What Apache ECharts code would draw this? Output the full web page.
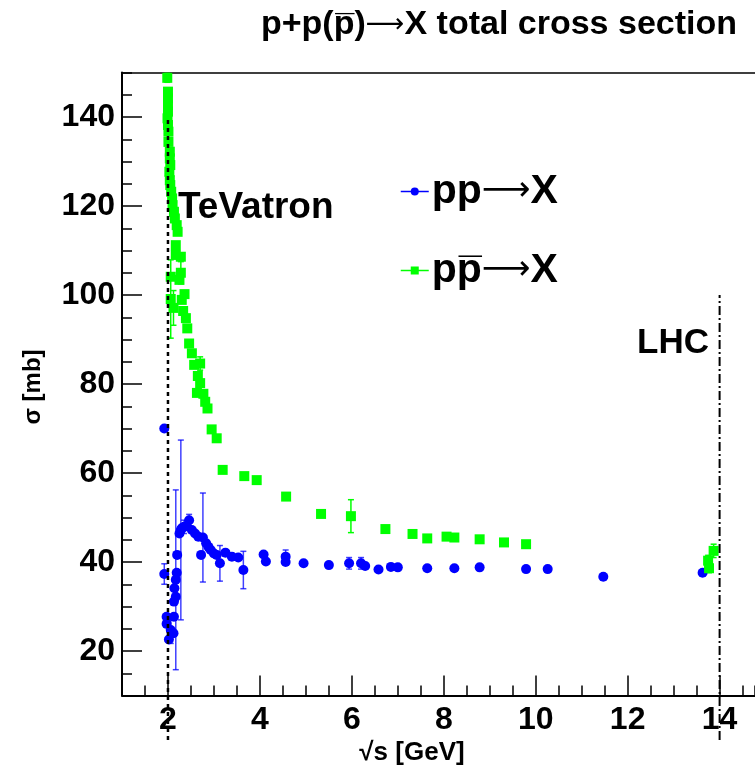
<!DOCTYPE html>
<html><head><meta charset="utf-8">
<script src="https://cdn.jsdelivr.net/npm/echarts@6/dist/echarts.min.js"></script>
<style>html,body{margin:0;padding:0;background:#fff}#c{width:755px;height:774px}</style>
</head><body><div id="c"></div>
<script>
// ---- data: sqrt(s) [GeV], sigma [mb], error [mb] ----
const ppX = [1.92,1.92,1.97,1.97,2.02,2.06,2.12,2.13,2.13,2.17,2.14,2.17,2.19,2.20,2.25,2.28,2.30,2.35,2.41,2.46,2.52,2.59,2.66,2.76,2.83,2.88,2.93,3.00,3.06,2.72,3.13,3.25,3.39,3.53,3.64,4.08,4.13,4.56,4.56,4.95,5.50,5.94,6.20,6.29,6.58,6.85,7.00,7.64,8.23,8.78,9.79,10.26,11.47,13.63];
const ppY = [70.0,37.3,27.7,26.1,22.6,24.7,24.0,27.7,31.1,32.2,34.1,36.0,37.6,41.6,46.4,47.2,47.6,47.9,48.1,49.4,47.2,46.4,45.7,45.5,44.2,43.4,42.7,41.9,41.6,41.6,39.7,42.1,41.2,41.0,38.2,41.7,40.1,41.2,40.0,39.7,39.3,39.7,39.7,39.1,38.3,38.9,38.8,38.6,38.6,38.8,38.4,38.4,36.7,37.6];
const ppErr = [0,2.3,0,0,0,3.0,0,0,0,0,0,20.2,0,0,0,20.2,0,1.5,0,1.3,0,0,0,10.0,0,0,0,0,0,0,4.0,0,0,0,4.2,0,0,1.5,0,0,0,1.3,1.3,0,0,0,0,0,0,0,0,0,0,0];

const pbX = [1.985,2.00,2.00,2.00,2.00,1.99,2.00,2.01,2.01,2.04,2.04,2.05,2.03,2.04,2.05,2.07,2.09,2.10,2.13,2.15,2.19,2.21,2.17,2.28,2.17,2.28,2.06,2.25,2.36,2.30,2.06,2.12,2.33,2.39,2.42,2.46,2.52,2.57,2.70,2.65,2.70,2.63,2.77,2.81,2.86,2.95,3.06,3.19,3.66,3.93,4.57,5.33,5.98,6.73,7.32,7.64,8.06,8.23,8.78,9.31,9.79,13.77,13.75,13.87];
const pbY = [148.8,145.7,144.2,142.7,141.2,139.7,138.2,136.7,134.4,132.2,130.7,129.2,127.7,125.8,124.7,123.2,121.7,120.2,118.7,117.2,115.7,114.2,111.2,108.6,109.0,105.0,104.1,103.4,100.2,98.9,99.1,97.1,96.4,94.8,92.5,89.1,86.9,84.3,84.6,81.8,80.2,78.0,77.8,76.0,74.5,69.8,67.8,60.7,59.3,58.4,54.7,50.8,50.3,47.4,46.3,45.3,45.7,45.5,45.1,44.4,44.0,38.6,40.3,42.5];
const pbErr = [1.0,0,0,0,0,0,0,0,0,0,0,0,0,0,0,0,0,0,0,0,0,0,0,0,0,2.5,0,0,0,0,8.8,3.9,0,0,0,0,0,0,1.5,0,0,0,0,0,0,0,0,0,0,0,0,0,3.7,0,0,0,0,0,0,0,0,1.0,1.2,1.5];

const xMajorTicks = [2,4,6,8,10,12,14];
const yMajorTicks = [20,40,60,80,100,120,140];
const tevatronLine = [[2,0],[2,140]];
const lhcLine = [[14,0],[14,100]];

const seriesNames = ['pp\u2192X', 'pp\u0305\u2192X'];

const FONT = 'Liberation Sans, Arial, Helvetica, sans-serif';
const ARROWFONT = 'DejaVu Sans, sans-serif';
const BLUE = '#0000ff', GREEN = '#00ff00';

function zip(xs, ys){ return xs.map((x,i)=>[x, ys[i]]); }
function errSeries(xs, ys, es, color){
  const data = [];
  for (let i=0;i<xs.length;i++) if (es[i]>0) data.push([xs[i], ys[i]-es[i], ys[i]+es[i]]);
  return {
    type:'custom', silent:true, z:3, data, encode:{x:0, y:[1,2]},
    renderItem(params, api){
      const lo = api.coord([api.value(0), api.value(1)]);
      const hi = api.coord([api.value(0), api.value(2)]);
      const w = 3, st = {stroke:color, lineWidth:1.5};
      return {type:'group', children:[
        {type:'line', shape:{x1:lo[0],y1:lo[1],x2:hi[0],y2:hi[1]}, style:st},
        {type:'line', shape:{x1:lo[0]-w,y1:lo[1],x2:lo[0]+w,y2:lo[1]}, style:st},
        {type:'line', shape:{x1:hi[0]-w,y1:hi[1],x2:hi[0]+w,y2:hi[1]}, style:st}
      ]};
    }
  };
}
function arrowRich(name){ return name.replace('\u2192', '{a|\u27f6}'); }

const chart = echarts.init(document.getElementById('c'));
const labelStyle = {color:'#000', fontFamily:FONT, fontWeight:'bold', fontSize:32};
chart.setOption({
  animation:false,
  backgroundColor:'#fff',
  grid:{left:122, top:72.5, right:0, height:623, show:false},
  xAxis:[
    {type:'value', min:1, max:14.77, interval:0.5, position:'bottom',
     axisLine:{show:true, lineStyle:{color:'#000', width:2}},
     axisTick:{show:true, inside:true, length:10, lineStyle:{color:'#000', width:1.5}},
     axisLabel:{show:false}, splitLine:{show:false}},
    {type:'value', min:1, max:14.77, position:'bottom',
     axisLine:{show:false},
     axisTick:{show:true, inside:true, length:20, customValues:xMajorTicks, lineStyle:{color:'#000', width:1.5}},
     axisLabel:Object.assign({show:true, customValues:xMajorTicks, margin:9}, labelStyle),
     splitLine:{show:false}},
    {type:'value', min:1, max:14.77, position:'top',
     axisLine:{show:true, lineStyle:{color:'#000', width:1.5}},
     axisTick:{show:false}, axisLabel:{show:false}, splitLine:{show:false}}
  ],
  yAxis:[
    {type:'value', min:10, max:150, interval:5, position:'left',
     axisLine:{show:true, lineStyle:{color:'#000', width:2}},
     axisTick:{show:true, inside:true, length:10, lineStyle:{color:'#000', width:1.5}},
     axisLabel:{show:false}, splitLine:{show:false}},
    {type:'value', min:10, max:150, position:'left',
     axisLine:{show:false},
     axisTick:{show:true, inside:true, length:20, customValues:yMajorTicks, lineStyle:{color:'#000', width:1.5}},
     axisLabel:Object.assign({show:true, customValues:yMajorTicks, margin:7}, labelStyle),
     splitLine:{show:false}}
  ],
  legend:{
    data:seriesNames, orient:'vertical', left:395, top:166, itemGap:38,
    itemWidth:28, itemHeight:10,
    formatter: arrowRich,
    textStyle:{color:'#000', fontFamily:FONT, fontWeight:'bold', fontSize:41, padding:[0,0,0,-2],
      rich:{a:{fontFamily:ARROWFONT, fontWeight:'normal', fontSize:34, color:'#000'}}},
    lineStyle:{opacity:1, width:1.5}
  },
  graphic:[
    {type:'text', right:18, top:8, style:{
      text:'p+p(p\u0305){a|\u27f6}X total cross section', fill:'#000', font:'bold 34px '+FONT,
      rich:{a:{fontFamily:ARROWFONT, fontWeight:'normal', fontSize:27, fill:'#000'}}}},
    {type:'text', x:178, y:208, style:{text:'TeVatron', fill:'#000', font:'bold 37px '+FONT, textVerticalAlign:'middle'}},
    {type:'text', x:709, y:343, style:{text:'LHC', fill:'#000', font:'bold 35px '+FONT, textAlign:'right', textVerticalAlign:'middle'}},
    {type:'text', x:33, y:387, rotation:Math.PI/2, style:{text:'\u03c3 [mb]', fill:'#000', font:'bold 24px '+FONT, textAlign:'center', textVerticalAlign:'middle'}},
    {type:'text', x:412, y:753, style:{text:'\u221as [GeV]', fill:'#000', font:'bold 26px '+FONT, textAlign:'center', textVerticalAlign:'middle'}}
  ],
  series:[
    errSeries(ppX, ppY, ppErr, 'rgba(0,0,255,0.75)'),
    errSeries(pbX, pbY, pbErr, GREEN),
    {type:'line', name:seriesNames[0], data:zip(ppX, ppY), symbol:'circle', symbolSize:10, showAllSymbol:true,
     itemStyle:{color:BLUE}, lineStyle:{opacity:0, color:BLUE}, z:4},
    {type:'line', name:seriesNames[1], data:zip(pbX, pbY), symbol:'rect', symbolSize:10, showAllSymbol:true,
     itemStyle:{color:GREEN}, lineStyle:{opacity:0, color:GREEN}, z:5},
    {type:'line', data:tevatronLine, clip:false, symbol:'none', silent:true, z:6,
     lineStyle:{color:'#000', width:2.5, type:[4,4]}},
    {type:'line', data:lhcLine, clip:false, symbol:'none', silent:true, z:6,
     lineStyle:{color:'#000', width:2, type:[9,3,2,3]}}
  ]
});
</script></body></html>
